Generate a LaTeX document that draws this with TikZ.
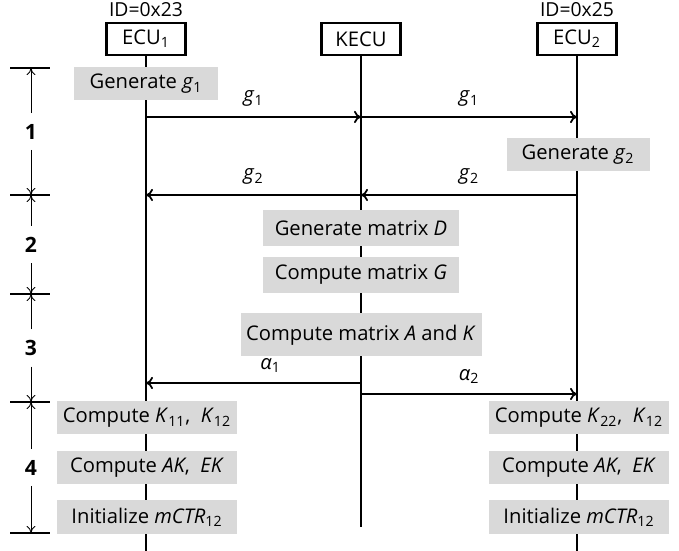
\documentclass[tikz,border=0pt]{standalone}
\usepackage{fontspec}
\setmainfont{Open Sans}
\usetikzlibrary{arrows.meta, positioning}

\begin{document}
\begin{tikzpicture}[x=0.2mm, y=-0.2mm,
  actor/.style={draw, line width=1.2pt, minimum width=1.58cm, minimum height=0.64cm,
                inner sep=0pt, font=\fontsize{11.5}{13}\selectfont},
  idlabel/.style={font=\fontsize{11}{12}\selectfont, inner sep=1pt},
  task/.style={fill=black!15, minimum width=2.86cm, minimum height=0.66cm,
               inner sep=0pt, font=\fontsize{11.5}{13}\selectfont},
  life/.style={line width=1.1pt},
  msg/.style={line width=1pt, -{To[length=4pt,width=7pt]}},
  mlabel/.style={font=\fontsize{11.5}{13}\selectfont, above=2pt},
  phase/.style={font=\bfseries\fontsize{12}{14}\selectfont, inner sep=6pt},
  dim/.style={line width=0.5pt, -{To[length=4pt,width=5pt]}},
]
\useasboundingbox (0,0) rectangle (679,551);

% actors
\node[actor] (ecu1) at (146,39) {ECU\textsubscript{1}};
\node[actor] (kecu) at (361,39) {KECU};
\node[actor] (ecu2) at (577,39) {ECU\textsubscript{2}};
\node[idlabel, above=2pt of ecu1] (id1) {ID=0x23};
\node[idlabel, above=2pt of ecu2] (id2) {ID=0x25};

% lifelines
\coordinate (ecu1end) at (146,551);
\coordinate (kecuend) at (361,527);
\coordinate (ecu2end) at (577,551);
\draw[life] (ecu1) -- (ecu1end);
\draw[life] (kecu) -- (kecuend);
\draw[life] (ecu2) -- (ecu2end);

% phase 1
\node[task] (gen1) at (146,84) {Generate \textit{g}\textsubscript{1}};
\node[task] (gen2) at (578,155) {Generate \textit{g}\textsubscript{2}};
\coordinate (ga1) at (146,117);
\coordinate (gk1) at (361,117);
\coordinate (gb1) at (577,117);
\draw[msg] (ga1) -- node[mlabel] {\textit{g}\textsubscript{1}} (gk1);
\draw[msg] (gk1) -- node[mlabel] {\textit{g}\textsubscript{1}} (gb1);
\coordinate (ga2) at (146,195);
\coordinate (gk2) at (361,195);
\coordinate (gb2) at (577,195);
\draw[msg] (gb2) -- node[mlabel] {\textit{g}\textsubscript{2}} (gk2);
\draw[msg] (gk2) -- node[mlabel] {\textit{g}\textsubscript{2}} (ga2);

% phase 2
\node[task, minimum width=3.92cm, minimum height=0.72cm] (matd) at (361,228) {Generate matrix \textit{D}};
\node[task, minimum width=3.92cm, minimum height=0.72cm] (matg) at (361,275) {Compute matrix \textit{G}};

% phase 3
\node[task, minimum width=4.82cm, minimum height=0.86cm] (matak) at (361,335) {Compute matrix \textit{A} and \textit{K}};
\coordinate (ak1) at (361,383);
\coordinate (aa1) at (146,383);
\coordinate (ak2) at (361,394);
\coordinate (ab2) at (577,394);
\draw[msg] (ak1) -- node[mlabel, pos=0.42] {\textit{α}\textsubscript{1}} (aa1);
\draw[msg] (ak2) -- node[mlabel] {\textit{α}\textsubscript{2}} (ab2);

% phase 4
\node[task, minimum width=3.6cm] (k1) at (147,418) {Compute \textit{K}\textsubscript{11},~~\textit{K}\textsubscript{12}};
\node[task, minimum width=3.6cm] (ek1) at (147,468) {Compute \textit{AK},~~\textit{EK}};
\node[task, minimum width=3.6cm] (ctr1) at (147,517) {Initialize \textit{mCTR}\textsubscript{12}};
\node[task, minimum width=3.6cm] (k2) at (579,418) {Compute \textit{K}\textsubscript{22},~~\textit{K}\textsubscript{12}};
\node[task, minimum width=3.6cm] (ek2) at (579,468) {Compute \textit{AK},~~\textit{EK}};
\node[task, minimum width=3.6cm] (ctr2) at (579,517) {Initialize \textit{mCTR}\textsubscript{12}};

% phase brackets
\foreach \ya/\yb/\n in {68/195/1, 195/294/2, 294/402/3, 402/533/4}{
  \node[phase] (p\n) at (31,{(\ya+\yb)/2}) {\n};
  \coordinate (pt\n) at (31,\ya);
  \coordinate (pb\n) at (31,\yb);
  \draw[dim] (p\n) -- (pt\n);
  \draw[dim] (p\n) -- (pb\n);
}
\foreach \yt in {68,195,294,402,533}
  \draw[line width=1.2pt] (10,\yt) -- (50,\yt);
\end{tikzpicture}
\end{document}
